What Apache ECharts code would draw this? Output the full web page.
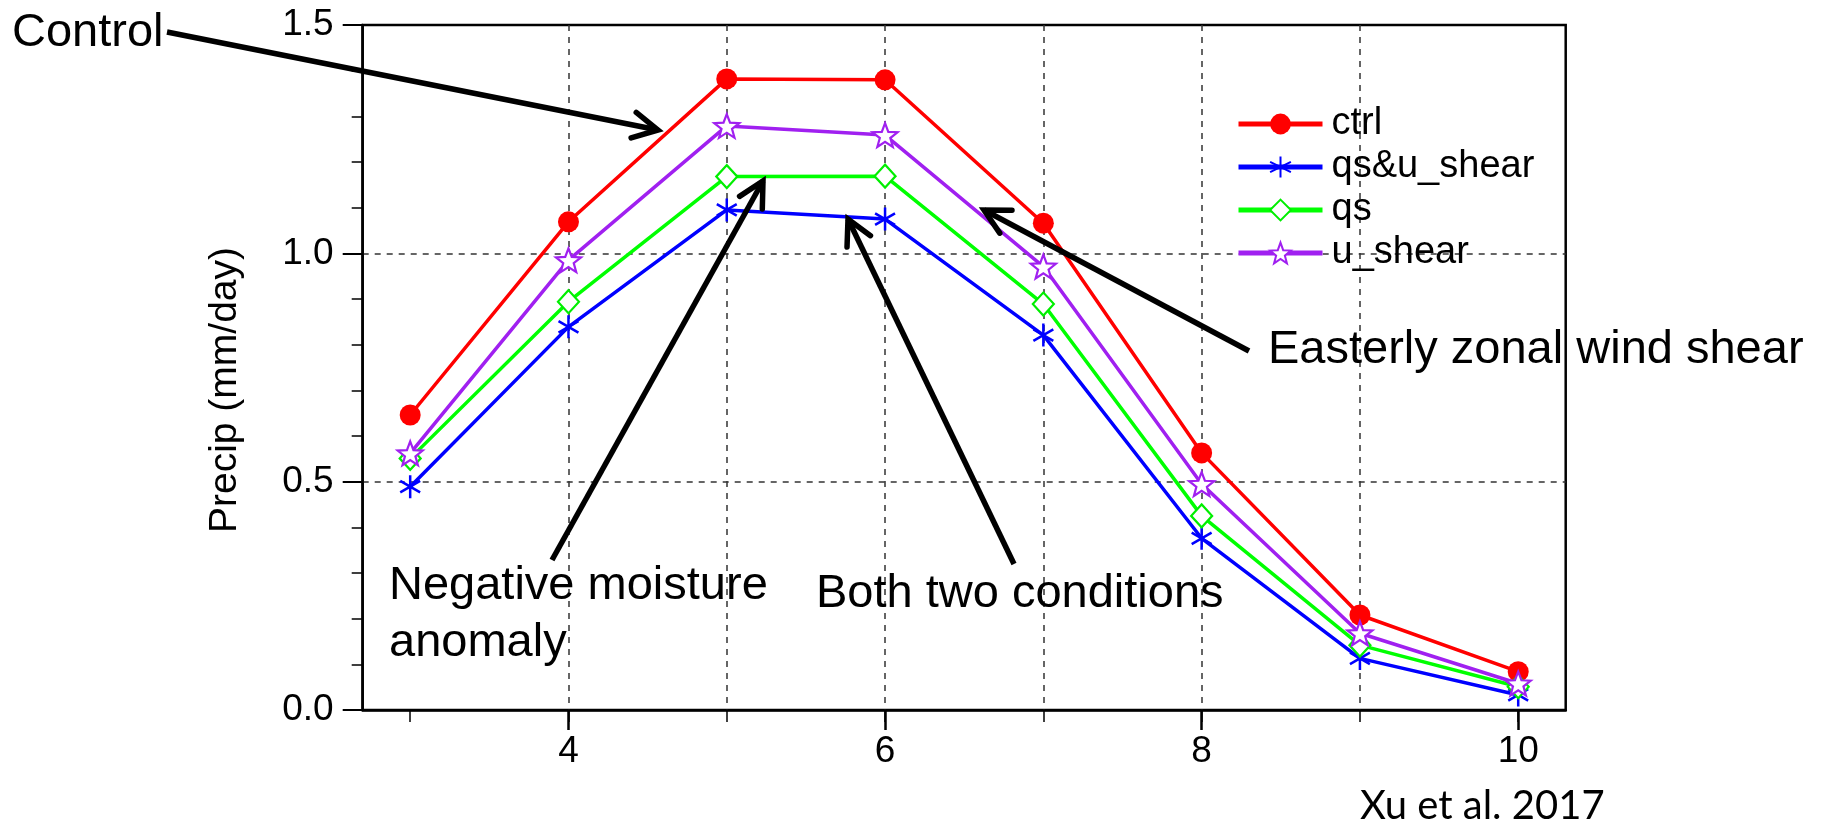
<!DOCTYPE html>
<html>
<head>
<meta charset="utf-8">
<script src="https://cdn.jsdelivr.net/npm/echarts@6/dist/echarts.min.js"></script>
<style>
html,body{margin:0;padding:0;background:#fff;}
#chart{width:1822px;height:839px;}
</style>
</head>
<body>
<div id="chart"></div>
<script>
// ---------------- data ----------------
const months = [3, 4, 5, 6, 7, 8, 9, 10];
const ctrl     = [0.646, 1.069, 1.382, 1.380, 1.066, 0.563, 0.208, 0.084];
const qsUshear = [0.489, 0.839, 1.095, 1.075, 0.821, 0.376, 0.113, 0.033];
const qs       = [0.551, 0.894, 1.168, 1.169, 0.889, 0.425, 0.142, 0.051];
const uShear   = [0.562, 0.985, 1.279, 1.259, 0.971, 0.495, 0.168, 0.058];
const seriesNames = ['ctrl', 'qs&u_shear', 'qs', 'u_shear'];
const xGridValues = [3, 4, 5, 6, 7, 8, 9, 10];
const xMajorTicks = [4, 6, 8, 10];
const yTickLabels = ['0.0', '0.5', '1.0', '1.5'];

// ---------------- styles ----------------
const FONT = '"Liberation Sans", Arial, Helvetica, sans-serif';
const ASTERISK = 'path://M0,-10L0,10M-8.66,-5L8.66,5M-8.66,5L8.66,-5';
const STAR = 'path://M0,-10L2.469,-3.398L9.511,-3.090L3.994,1.298L5.878,8.090L0,4.2L-5.878,8.090L-3.994,1.298L-9.511,-3.090L-2.469,-3.398Z';

function pairs(arr) { return months.map((m, i) => [m, arr[i]]); }

const chart = echarts.init(document.getElementById('chart'), null, {renderer: 'canvas'});

const dash = {type: [6, 6], color: '#333', width: 1.5};

function arrow(x1, y1, x2, y2, w) {
  const ang = Math.atan2(y1 - y2, x1 - x2);
  const L = 28, a = Math.PI / 6.5;
  const p1 = [x2 + L * Math.cos(ang + a), y2 + L * Math.sin(ang + a)];
  const p2 = [x2 + L * Math.cos(ang - a), y2 + L * Math.sin(ang - a)];
  return [
    {type: 'polyline', silent: true, z: 100, shape: {points: [[x1, y1], [x2, y2]]},
     style: {stroke: '#000', lineWidth: w, lineCap: 'butt'}},
    {type: 'polyline', silent: true, z: 100, shape: {points: [p1, [x2, y2], p2]},
     style: {stroke: '#000', lineWidth: w, lineCap: 'round', lineJoin: 'miter', fill: null}}
  ];
}
function label(text, x, y, size, family) {
  return {type: 'text', silent: true, z: 101, x: x, y: y,
    style: {text: text, x: 0, y: 0, font: size + 'px ' + (family || FONT), fill: '#000',
            align: 'left', verticalAlign: 'middle'}};
}

const graphics = [].concat(
  arrow(167, 32, 658, 130, 5.5),
  arrow(552, 560, 763, 181, 5.5),
  arrow(1014, 564, 848, 219, 5.5),
  arrow(1249, 351, 984, 210, 5.5),
  [
    label('Control', 12, 33, 47),
    label('Negative moisture', 389, 586, 47),
    label('anomaly', 389, 643, 47),
    label('Both two conditions', 816, 594, 47),
    label('Easterly zonal wind shear', 1268, 350, 47),
    label('Xu et al. 2017', 1360, 806, 40, 'Lato, "Open Sans", sans-serif'),
    {type: 'text', silent: true, x: 225, y: 390, rotation: Math.PI / 2,
     style: {text: 'Precip (mm/day)', x: 0, y: 0, font: '39px ' + FONT, fill: '#000',
             align: 'center', verticalAlign: 'middle'}}
  ]
);

const option = {
  backgroundColor: '#fff',
  animation: false,
  grid: {left: 362.7, right: 256.3, top: 25, bottom: 129, show: true,
         borderColor: '#000', borderWidth: 2.5, backgroundColor: 'transparent'},
  legend: {
    show: true, orient: 'vertical', left: 1236, top: 105, padding: 0,
    itemWidth: 84, itemHeight: 26, itemGap: 5,
    lineStyle: {width: 5},
    textStyle: {fontSize: 38, fontFamily: FONT, color: '#000', lineHeight: 38, padding: [0, 0, 0, 4]},
    data: seriesNames
  },
  xAxis: [
    {type: 'value', min: 2.7, max: 10.3, position: 'bottom',
     axisLine: {show: true, onZero: false, lineStyle: {color: '#000', width: 2.5}},
     axisTick: {show: true, customValues: xGridValues, length: 12, lineStyle: {color: '#000', width: 1.5}},
     axisLabel: {show: false},
     splitLine: {show: true, showMinLine: false, showMaxLine: false, lineStyle: dash}},
    {type: 'value', min: 2.7, max: 10.3, position: 'bottom',
     axisLine: {show: false, onZero: false},
     axisTick: {show: true, customValues: xMajorTicks, length: 20, lineStyle: {color: '#000', width: 2.5}},
     axisLabel: {show: true, customValues: xMajorTicks, fontSize: 37, fontFamily: FONT, color: '#000', margin: 23},
     splitLine: {show: false}}
  ],
  yAxis: [
    {type: 'value', min: 0, max: 1.5, interval: 0.5,
     axisLine: {show: true, lineStyle: {color: '#000', width: 2.5}},
     axisTick: {show: true, length: 20, lineStyle: {color: '#000', width: 2}},
     minorTick: {show: true, splitNumber: 5, length: 11, lineStyle: {color: '#000', width: 1.5}},
     axisLabel: {fontSize: 37, fontFamily: FONT, color: '#000', margin: 29,
                 formatter: (v) => yTickLabels[Math.round(v / 0.5)]},
     splitLine: {show: true, showMinLine: false, showMaxLine: false, lineStyle: dash}}
  ],
  series: [
    {name: seriesNames[0], type: 'line', data: pairs(ctrl), symbol: 'circle', symbolSize: 21,
     lineStyle: {color: '#ff0000', width: 3.5}, itemStyle: {color: '#ff0000'}},
    {name: seriesNames[1], type: 'line', data: pairs(qsUshear), symbol: ASTERISK, symbolSize: 23, symbolKeepAspect: true,
     lineStyle: {color: '#0000ff', width: 3.5}, itemStyle: {color: 'rgba(0,0,0,0)', borderColor: '#0000ff', borderWidth: 2.5}},
    {name: seriesNames[2], type: 'line', data: pairs(qs), symbol: 'diamond', symbolSize: [21, 23],
     lineStyle: {color: '#00ff00', width: 3.5}, itemStyle: {color: '#ffffff', borderColor: '#00ee00', borderWidth: 2.2}},
    {name: seriesNames[3], type: 'line', data: pairs(uShear), symbol: STAR, symbolSize: 25, symbolKeepAspect: true,
     lineStyle: {color: '#a020f0', width: 3.5}, itemStyle: {color: '#ffffff', borderColor: '#a020f0', borderWidth: 2.2}}
  ],
  graphic: graphics
};
chart.setOption(option);
</script>
</body>
</html>
